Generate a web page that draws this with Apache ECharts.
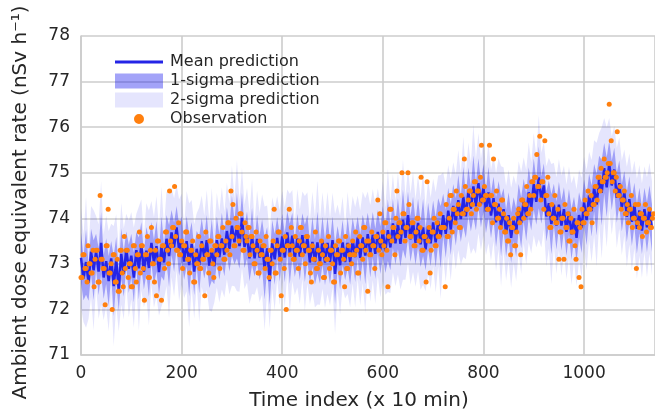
<!DOCTYPE html>
<html>
<head>
<meta charset="utf-8">
<script src="https://cdn.jsdelivr.net/npm/echarts@6/dist/echarts.min.js"></script>
<style>html,body{margin:0;padding:0;background:#fff;}#c{width:655px;height:416px;}</style>
</head>
<body>
<div id="c"></div>
<script>
// ---- data ----
const meanStep = 5;   // time-index spacing of the mean / sigma samples
const meanVals = [
73.13,72.68,73.04,72.59,73.27,72.86,73.27,72.83,73.46,72.70,73.06,72.62,73.12,72.51,73.09,72.43,73.22,72.78,73.32,72.89,
73.18,72.70,73.30,72.90,73.42,72.83,73.29,72.91,73.46,73.03,73.39,72.82,73.38,73.03,73.55,73.17,73.69,73.36,73.80,73.30,
73.54,73.05,73.50,72.97,73.44,72.83,73.33,72.98,73.50,73.14,73.52,72.96,73.31,72.95,73.52,73.15,73.56,73.20,73.72,73.33,
73.84,73.47,73.84,73.39,74.01,73.37,73.63,73.12,73.60,73.12,73.55,73.14,73.43,72.90,73.34,72.62,73.46,73.10,73.57,73.13,
73.60,73.14,73.69,73.22,73.62,73.11,73.56,73.16,73.63,73.23,73.57,73.03,73.48,73.04,73.47,73.04,73.51,73.03,73.46,73.04,
73.52,72.78,73.36,72.97,73.47,73.04,73.46,73.04,73.53,73.15,73.58,73.13,73.58,73.18,73.65,73.23,73.64,73.22,73.70,73.30,
73.72,73.28,73.74,73.36,73.89,73.45,73.88,73.44,73.97,73.57,74.07,73.54,73.92,73.46,73.90,73.43,73.80,73.32,73.82,73.45,
73.91,73.47,73.94,73.59,74.07,73.66,74.17,73.75,74.27,73.92,74.40,73.98,74.47,74.04,74.58,74.21,74.70,74.26,74.77,74.30,
74.67,74.15,74.57,74.06,74.44,73.91,74.32,73.82,74.20,73.67,74.07,73.57,73.98,73.68,74.25,73.90,74.40,74.02,74.57,74.23,
74.75,74.36,74.90,74.40,74.72,74.04,74.33,73.87,74.30,73.84,74.30,73.84,74.20,73.70,74.14,73.65,74.00,73.57,74.07,73.79,
74.35,73.96,74.50,74.16,74.67,74.30,74.87,74.56,75.10,74.68,75.20,74.72,75.07,74.45,74.77,74.23,74.57,74.03,74.42,73.92,
74.30,73.77,74.17,73.73,74.20,73.80,74.22,73.78
];
const sigmaVals = [
0.55,0.48,0.72,0.40,0.50,0.66,0.39,0.52,0.68,0.47,0.50,0.55,0.38,0.66,0.50,0.46,0.56,0.50,0.39,0.53,
0.48,0.55,0.40,0.68,0.50,0.39,0.52,0.63,0.46,0.50,0.55,0.48,0.66,0.40,0.52,0.68,0.49,0.54,0.47,0.56,
0.50,0.40,0.55,0.68,0.48,0.52,0.39,0.63,0.50,0.46,0.55,0.49,0.68,0.40,0.52,0.50,0.56,0.47,0.53,0.50,
0.66,0.48,0.72,0.50,0.55,0.46,0.52,0.50,0.63,0.40,0.53,0.49,0.55,0.68,0.47,0.52,0.50,0.56,0.46,0.52,
0.50,0.55,0.47,0.66,0.50,0.40,0.54,0.52,0.48,0.63,0.50,0.46,0.55,0.50,0.68,0.47,0.53,0.50,0.56,0.48,
0.52,0.66,0.47,0.54,0.50,0.40,0.56,0.50,0.48,0.55,0.46,0.52,0.50,0.63,0.47,0.53,0.50,0.55,0.48,0.52,
0.55,0.48,0.68,0.50,0.54,0.47,0.56,0.50,0.66,0.46,0.52,0.50,0.55,0.48,0.53,0.50,0.63,0.46,0.52,0.50,
0.48,0.55,0.50,0.68,0.47,0.53,0.50,0.56,0.48,0.52,0.55,0.50,0.66,0.47,0.54,0.50,0.68,0.52,0.55,0.50,
0.52,0.48,0.56,0.50,0.47,0.54,0.50,0.66,0.46,0.52,0.50,0.55,0.48,0.53,0.50,0.56,0.47,0.52,0.55,0.50,
0.56,0.50,0.68,0.52,0.48,0.55,0.50,0.66,0.46,0.53,0.50,0.55,0.48,0.52,0.50,0.56,0.47,0.53,0.50,0.55,
0.50,0.55,0.48,0.56,0.52,0.68,0.50,0.72,0.55,0.66,0.50,0.54,0.48,0.55,0.50,0.52,0.47,0.55,0.50,0.53,
0.48,0.55,0.50,0.52,0.47,0.55,0.50,0.52
];
const obsStep = 2;    // time-index spacing of the observation samples
const obsVals = [
72.7,72.7,73.2,73.2,72.9,72.9,72.6,73.4,73.0,73.0,72.8,72.8,73.3,72.5,73.1,
73.3,73.3,72.6,72.6,74.5,73.1,73.1,72.9,72.9,72.1,73.4,73.4,74.2,72.8,72.8,
73.0,72.0,73.2,73.2,72.6,72.6,73.1,72.4,72.4,73.3,73.3,72.8,72.5,73.6,72.9,
73.3,73.3,72.7,73.0,73.0,72.5,72.5,73.4,73.4,72.9,72.6,73.2,73.2,73.7,72.8,
73.4,73.4,72.9,72.2,73.2,73.2,73.6,72.7,72.7,73.3,73.8,73.0,73.0,72.6,73.3,
72.3,73.5,73.5,73.1,73.1,72.2,73.4,73.4,72.9,73.7,73.7,73.3,73.0,74.6,73.5,
73.4,73.8,73.8,74.7,73.6,73.3,73.3,73.9,73.2,73.2,73.5,72.9,73.4,73.4,73.7,
73.7,73.1,73.1,72.8,73.3,73.3,73.5,72.6,72.6,73.2,73.0,73.0,73.6,72.9,72.9,
73.4,73.1,73.1,72.3,73.7,73.2,73.2,72.8,73.5,73.5,73.3,73.0,72.7,73.4,73.4,
73.2,73.6,73.6,72.9,73.4,73.4,73.8,73.1,73.1,73.5,73.3,73.9,73.9,73.2,74.6,
73.6,74.3,73.4,73.4,74.0,73.8,73.8,73.5,74.1,74.1,73.7,73.3,73.3,73.9,73.6,
73.5,73.8,73.8,73.2,73.6,73.6,73.4,73.0,73.0,73.7,73.3,72.8,72.8,73.5,73.2,
73.2,73.4,73.4,72.9,73.6,73.1,73.1,72.7,73.3,73.3,73.0,73.5,74.2,72.8,72.8,
73.4,73.7,73.7,73.1,72.3,73.3,73.3,72.9,73.6,72.0,73.4,73.4,74.2,73.2,73.8,
73.4,73.1,73.1,73.6,73.3,73.3,72.9,73.5,73.8,73.8,73.2,73.4,73.4,73.0,73.6,
73.6,73.3,73.3,72.8,72.6,73.4,73.1,73.1,73.7,72.9,72.9,73.3,73.0,73.0,73.5,
73.2,72.7,72.7,73.4,73.1,73.1,73.6,72.9,73.3,73.3,73.0,72.6,72.6,73.4,73.2,
73.2,73.5,73.5,72.8,73.3,73.3,73.1,72.5,73.6,72.9,72.9,73.4,73.2,73.2,73.0,
73.5,73.2,73.2,73.7,73.3,72.8,72.8,73.6,73.4,73.4,73.1,73.8,73.8,73.3,73.5,
72.4,73.5,73.2,73.2,73.7,73.4,73.4,72.9,73.6,73.6,74.4,73.3,74.1,73.5,73.2,
73.7,73.4,73.9,73.9,73.3,72.5,73.6,74.2,74.2,73.5,73.8,73.8,73.2,74.0,74.6,
73.6,73.9,73.9,73.7,75.0,74.1,74.1,73.5,73.8,73.8,75.0,74.3,73.6,73.6,73.9,
73.9,73.4,73.4,73.7,74.0,74.0,73.5,73.8,74.9,73.3,73.3,73.6,73.6,72.6,74.8,
73.5,73.8,72.8,73.3,73.7,73.7,74.0,73.4,73.4,73.9,73.6,73.6,74.1,73.8,73.8,
73.8,73.8,72.5,74.3,73.6,73.6,74.0,74.5,74.5,73.7,74.2,74.2,73.9,74.6,74.1,
74.3,73.8,73.8,74.5,74.1,74.1,75.3,74.7,74.2,74.2,74.4,74.6,74.6,74.1,74.3,
74.5,74.8,74.8,74.2,74.6,74.6,74.3,74.9,75.6,74.4,74.4,74.7,74.5,74.5,74.2,
74.2,75.6,74.5,74.5,73.9,75.3,74.3,74.3,74.6,74.0,74.0,74.2,73.8,74.4,74.4,
74.1,73.7,73.7,74.0,73.5,73.5,73.9,73.2,73.8,73.8,74.0,73.4,73.4,73.7,74.1,
74.2,73.9,73.2,74.4,74.4,74.0,74.3,74.3,74.7,74.1,74.1,74.5,74.2,74.8,74.8,
74.5,74.9,74.9,75.4,74.7,74.7,75.8,74.4,74.8,74.8,74.2,75.7,74.5,74.5,74.9,
74.1,73.8,73.8,74.3,74.0,74.0,74.5,73.9,73.9,74.2,73.1,73.7,73.7,74.0,74.0,
73.1,74.3,73.8,73.8,74.1,73.5,73.5,74.0,73.7,73.7,74.2,73.4,73.1,73.9,73.9,
72.7,73.8,72.5,74.2,73.9,73.9,74.4,74.1,74.1,74.6,74.2,74.2,74.5,73.9,74.3,
74.3,74.7,74.7,74.4,74.9,74.9,74.6,75.1,74.8,74.8,75.3,74.9,74.9,75.0,75.2,
76.5,75.2,75.7,74.8,75.0,75.0,74.6,74.9,75.9,74.5,74.5,74.7,74.2,74.4,74.4,
74.6,74.1,74.1,74.3,73.9,74.2,74.2,74.5,73.8,74.0,74.0,74.3,72.9,73.9,74.3,
73.8,74.1,74.1,73.6,74.0,74.0,74.3,73.7,73.9,73.9,74.2,73.8,73.8,74.0,74.1
];
const xTicks = [0, 200, 400, 600, 800, 1000];
const yTicks = [71, 72, 73, 74, 75, 76, 77, 78];

// ---- derived series ----
const meanData = meanVals.map((v, i) => [i * meanStep, v]);
const obsData = obsVals.map((v, i) => [i * obsStep, v]);
// band polygons: upper edge forward, lower edge backward (k = number of sigmas)
function bandPolygon(k) {
  const up = meanVals.map((v, i) => [i * meanStep, v + k * sigmaVals[i]]);
  const lo = meanVals.map((v, i) => [i * meanStep, v - k * sigmaVals[i]]).reverse();
  return up.concat(lo);
}
const band2 = bandPolygon(2);
const band1 = bandPolygon(1);

const C_MEAN = '#2424e6';
const C_S1 = 'rgba(0,0,235,0.30)';
const C_S2 = 'rgba(0,0,240,0.10)';
const C_OBS = '#ff7f0e';
const GRIDC = '#cccccc';
const TXT = '#262626';
const FONT = 'DejaVu Sans';

function bandSeries(name, pts, color) {
  return {
    type: 'custom', name: name, data: [[0, 0]], z: 1, silent: true, clip: true,
    itemStyle: {color: color},
    renderItem: function (params, api) {
      const points = pts.map(p => api.coord(p));
      return {type: 'polygon', shape: {points: points}, style: {fill: color}};
    }
  };
}

const chart = echarts.init(document.getElementById('c'), null, {renderer: 'canvas'});
chart.setOption({
  animation: false,
  backgroundColor: '#fff',
  textStyle: {fontFamily: FONT},
  grid: {left: 81, top: 36, width: 575, height: 322, containLabel: false},
  xAxis: {
    type: 'value', min: 0, max: 1141, interval: 200,
    name: 'Time index (x 10 min)', nameLocation: 'middle', nameGap: 36,
    nameTextStyle: {fontSize: 20, color: TXT, fontFamily: FONT, padding: [0, 18, 0, 0]},
    axisLine: {show: true, lineStyle: {color: GRIDC, width: 1.6}},
    axisTick: {show: false},
    axisLabel: {fontSize: 17, color: TXT, fontFamily: FONT, margin: 10, showMaxLabel: false,
      formatter: v => xTicks.indexOf(v) >= 0 ? String(v) : ''},
    splitLine: {show: true, lineStyle: {color: GRIDC, width: 1.6}}
  },
  yAxis: {
    type: 'value', min: 71, max: 78, interval: 1,
    name: 'Ambient dose equivalent rate (nSv h\u207B\u00B9)', nameLocation: 'middle', nameGap: 50,
    nameTextStyle: {fontSize: 20, color: TXT, fontFamily: FONT, padding: [0, 14, 0, 0]},
    axisLine: {show: true, lineStyle: {color: GRIDC, width: 1.6}},
    axisTick: {show: false},
    axisLabel: {fontSize: 17, color: TXT, fontFamily: FONT, margin: 11,
      formatter: v => yTicks.indexOf(v) >= 0 ? String(v) : ''},
    splitLine: {show: true, lineStyle: {color: GRIDC, width: 1.6}}
  },
  legend: {
    orient: 'vertical', left: 110, top: 49, itemWidth: 48, itemHeight: 15, itemGap: 3,
    textStyle: {fontSize: 16, color: TXT, fontFamily: FONT, lineHeight: 15, padding: [0, 0, 0, 2]},
    selectedMode: false,
    data: [
      {name: 'Mean prediction', icon: 'path://M0,0L0.001,0L0,0.001Z M0,6L48,6L48,9L0,9Z M48,15L47.999,15L48,14.999Z', itemStyle: {color: C_MEAN}},
      {name: '1-sigma prediction', icon: 'rect', itemStyle: {color: 'rgba(0,0,235,0.36)'}},
      {name: '2-sigma prediction', icon: 'rect', itemStyle: {color: C_S2}},
      {name: 'Observation', icon: 'path://M0,0L0.001,0L0,0.001Z M19,7.5A5,5,0,1,0,29,7.5A5,5,0,1,0,19,7.5Z M48,15L47.999,15L48,14.999Z', itemStyle: {color: C_OBS}}
    ]
  },
  series: [
    bandSeries('2-sigma prediction', band2, C_S2),
    bandSeries('1-sigma prediction', band1, C_S1),
    {type: 'line', name: 'Mean prediction', data: meanData, symbol: 'none', z: 3,
     lineStyle: {color: C_MEAN, width: 2.5}, itemStyle: {color: C_MEAN}},
    {type: 'scatter', name: 'Observation', data: obsData, symbol: 'circle', symbolSize: 5, z: 4,
     itemStyle: {color: C_OBS, opacity: 1}}
  ]
});
</script>
</body>
</html>
